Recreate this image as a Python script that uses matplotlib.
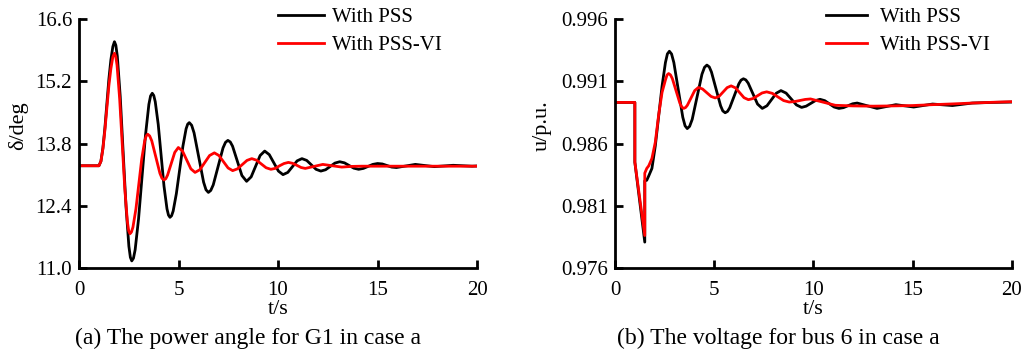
import numpy as np
import matplotlib
matplotlib.use('Agg')
import matplotlib.pyplot as plt

# ---- data ----
# (a) power angle of G1, deg
t_a_pss = [0, 1.0, 1.1, 1.2, 1.3, 1.4, 1.5, 1.6, 1.7, 1.78, 1.85,
           1.925, 2.07, 2.215, 2.36, 2.505, 2.58, 2.65, 2.735,
           2.82, 2.99, 3.165, 3.34, 3.51, 3.595, 3.68, 3.755,
           3.83, 3.98, 4.125, 4.27, 4.42, 4.495, 4.57, 4.65,
           4.73, 4.89, 5.055, 5.22, 5.38, 5.46, 5.54, 5.66,
           5.78, 6.02, 6.26, 6.38, 6.50, 6.62,
           6.745, 6.99, 7.235, 7.36, 7.48, 7.60,
           7.715, 7.95, 8.185, 8.42,
           8.65, 8.875, 9.10, 9.33,
           9.56, 9.79, 10.02, 10.25,
           10.49, 10.725, 10.96, 11.2,
           11.44, 11.675, 11.91, 12.15,
           12.39, 12.625, 12.86, 13.1,
           13.34, 13.575, 13.81, 14.05,
           14.29, 14.525, 14.76, 15.0,
           15.24, 15.475, 15.71, 15.95,
           16.425, 16.9, 17.375, 17.85, 18.325, 18.8, 19.275, 19.75, 20.0]
d_a_pss = [13.30, 13.30, 13.40, 13.70, 14.15, 14.70, 15.25, 15.68, 15.98, 16.09, 16.01,
           15.76, 14.86, 13.625, 12.39, 11.49, 11.24, 11.16, 11.22,
           11.41, 12.10, 13.045, 13.99, 14.68, 14.87, 14.93, 14.88,
           14.74, 14.23, 13.535, 12.84, 12.33, 12.19, 12.14, 12.175,
           12.28, 12.67, 13.205, 13.74, 14.13, 14.235, 14.27, 14.21,
           14.04, 13.485, 12.93, 12.76, 12.70, 12.745,
           12.87, 13.285, 13.70, 13.826, 13.87, 13.835,
           13.74, 13.41, 13.08, 12.95,
           13.05, 13.29, 13.53, 13.63,
           13.55, 13.365, 13.18, 13.10,
           13.15, 13.28, 13.41, 13.46,
           13.42, 13.32, 13.22, 13.18,
           13.21, 13.285, 13.36, 13.39,
           13.365, 13.305, 13.245, 13.22,
           13.24, 13.285, 13.33, 13.35,
           13.34, 13.305, 13.27, 13.26,
           13.295, 13.33, 13.305, 13.28, 13.295, 13.31, 13.30, 13.29, 13.295]

t_a_vi = [0, 1.0, 1.1, 1.2, 1.3, 1.4, 1.5, 1.6, 1.7, 1.78, 1.845,
          1.91, 2.04, 2.17, 2.30, 2.43, 2.495, 2.56, 2.635,
          2.71, 2.86, 3.005, 3.15, 3.30, 3.375, 3.45, 3.55,
          3.655, 3.86, 4.065, 4.17, 4.27, 4.36,
          4.45, 4.63, 4.81, 4.99,
          5.20, 5.41, 5.62, 5.83,
          6.07, 6.315, 6.56, 6.8,
          7.03, 7.26, 7.49, 7.72,
          7.96, 8.20, 8.44, 8.68,
          8.92, 9.16, 9.40, 9.64,
          9.86, 10.08, 10.30, 10.52,
          10.73, 10.945, 11.16, 11.37,
          11.81, 12.25, 12.72, 13.2, 13.7, 14.2, 20.0]
d_a_vi = [13.30, 13.30, 13.40, 13.68, 14.10, 14.60, 15.10, 15.48, 15.75, 15.83, 15.76,
          15.56, 14.815, 13.80, 12.785, 12.04, 11.84, 11.77, 11.81,
          11.92, 12.33, 12.89, 13.45, 13.86, 13.97, 14.01, 13.97,
          13.86, 13.495, 13.13, 13.017, 12.98, 13.008,
          13.09, 13.345, 13.60, 13.71,
          13.63, 13.43, 13.23, 13.15,
          13.21, 13.37, 13.53, 13.59,
          13.53, 13.39, 13.25, 13.19,
          13.23, 13.325, 13.42, 13.46,
          13.425, 13.34, 13.255, 13.22,
          13.24, 13.30, 13.35, 13.375,
          13.355, 13.31, 13.26, 13.24,
          13.285, 13.33, 13.30, 13.27, 13.285, 13.29, 13.29]

# (b) voltage of bus 6, p.u.
t_b_pss = [0, 1.0, 1.0, 1.50, 1.50, 1.6, 1.7, 1.86, 2.03, 2.2, 2.37, 2.54, 2.64, 2.74, 2.85,
           2.965, 3.19, 3.415, 3.53, 3.64, 3.76,
           3.89, 4.135, 4.38, 4.51, 4.63, 4.75,
           4.86, 5.09, 5.32, 5.43, 5.55, 5.67,
           5.78, 6.01, 6.24, 6.35, 6.47, 6.59,
           6.71, 6.945, 7.18, 7.42,
           7.655, 7.89, 8.125, 8.36,
           8.62, 8.88, 9.14, 9.40,
           9.63, 9.865, 10.1, 10.33,
           10.57, 10.805, 11.04, 11.28,
           11.51, 11.74, 11.97, 12.2,
           12.7, 13.2, 13.675, 14.15, 14.6, 15.05, 15.525, 16.0,
           16.5, 17.0, 17.5, 18.0, 19.0, 20.0]
u_b_pss = [0.98930, 0.98930, 0.98450, 0.97808, 0.98300, 0.98305, 0.98340, 0.98400,
           0.98580, 0.98820, 0.99060, 0.99250, 0.99320, 0.99341, 0.99319,
           0.99250, 0.990305, 0.98811, 0.98742, 0.98720, 0.98738,
           0.98794, 0.98975, 0.99156, 0.99212, 0.99230, 0.99215,
           0.99174, 0.990385, 0.98903, 0.98862, 0.98847, 0.98858,
           0.98887, 0.989835, 0.99080, 0.99109, 0.99120, 0.99111,
           0.99085, 0.99001, 0.98917, 0.98882,
           0.98903, 0.989535, 0.99004, 0.99025,
           0.99005, 0.989575, 0.98910, 0.98890,
           0.98900, 0.989225, 0.98945, 0.98955,
           0.98944, 0.989185, 0.98893, 0.98882,
           0.98888, 0.989035, 0.98919, 0.98925,
           0.989035, 0.98882, 0.98897, 0.98912, 0.989025, 0.98893, 0.98905, 0.98917,
           0.98911, 0.98905, 0.98915, 0.98925, 0.98930, 0.98933]

t_b_vi = [0, 1.0, 1.0, 1.50, 1.50, 1.6, 1.7, 1.86, 2.03, 2.2, 2.37, 2.54, 2.62, 2.70, 2.795,
          2.89, 3.08, 3.27, 3.365, 3.46, 3.555,
          3.645, 3.83, 4.015, 4.20,
          4.41, 4.625, 4.84, 5.05,
          5.25, 5.45, 5.65, 5.85,
          6.07, 6.285, 6.50, 6.72,
          6.95, 7.18, 7.41, 7.64,
          7.925, 8.21, 8.495, 8.78,
          9.05, 9.315, 9.58, 9.85,
          10.475, 11.1, 12.0, 13.0, 14.0, 15.0, 16.0, 17.0, 18.0, 19.0, 20.0]
u_b_vi = [0.98930, 0.98930, 0.98450, 0.97861, 0.98362, 0.98400, 0.98421, 0.98480,
          0.98610, 0.98830, 0.99010, 0.99110, 0.99150, 0.99162, 0.99151,
          0.99121, 0.99022, 0.98923, 0.98893, 0.98882, 0.98889,
          0.98907, 0.98966, 0.99025, 0.99050,
          0.99038, 0.99008, 0.98978, 0.98966,
          0.98980, 0.990145, 0.99049, 0.99063,
          0.99047, 0.990075, 0.98968, 0.98952,
          0.98961, 0.989835, 0.99006, 0.99015,
          0.99003, 0.98974, 0.98945, 0.98933,
          0.98937, 0.989455, 0.98954, 0.98958,
          0.989325, 0.98907, 0.98902, 0.98900, 0.98902, 0.98905, 0.98912,
          0.98918, 0.98925, 0.98931, 0.98936]

labels = ['With PSS', 'With PSS-VI']
x_ticks = [0, 5, 10, 15, 20]
a_ticks = [11.0, 12.4, 13.8, 15.2, 16.6]
b_ticks = [0.976, 0.981, 0.986, 0.991, 0.996]

plt.rcParams['font.family'] = ['Liberation Serif', 'DejaVu Serif']
plt.rcParams['font.size'] = 15

fig = plt.figure(figsize=(10.25, 3.54), dpi=100)
ax1 = fig.add_axes([0.0771, 0.2429, 0.3883, 0.7034])
ax2 = fig.add_axes([0.6, 0.2429, 0.3873, 0.7034])


def style(ax, yticks, fmt, ylabel, ylab_x, leg_x, hl, htp):
    for s in ['top', 'right']:
        ax.spines[s].set_visible(False)
    for s in ['left', 'bottom']:
        ax.spines[s].set_linewidth(2)
    ax.set_xlim(0, 20)
    ax.set_ylim(yticks[0], yticks[-1])
    ax.set_xticks(x_ticks)
    ax.set_yticks(yticks)
    ax.set_yticklabels([fmt % v for v in yticks])
    ax.tick_params(direction='in', length=6, width=2, labelsize=15)
    ax.tick_params(axis='y', pad=5)
    ax.tick_params(axis='x', pad=9)
    ax.set_xlabel('t/s', fontsize=16, labelpad=0)
    ax.set_ylabel(ylabel, fontsize=16)
    ax.yaxis.set_label_coords(ylab_x, 0.57)
    ax.legend(loc='upper left', bbox_to_anchor=(leg_x, 1.045), frameon=False,
              fontsize=15, handlelength=hl, handletextpad=htp,
              labelspacing=0.4, borderpad=0, borderaxespad=0)


ax1.plot(t_a_pss, d_a_pss, color='black', lw=2, label=labels[0])
ax1.plot(t_a_vi, d_a_vi, color='red', lw=2, label=labels[1])
style(ax1, a_ticks, '%.1f', 'δ/deg', -0.128, 0.50, 2.2, 0.4)

ax2.plot(t_b_pss, u_b_pss, color='black', lw=2, label=labels[0])
ax2.plot(t_b_vi, u_b_vi, color='red', lw=2, label=labels[1])
style(ax2, b_ticks, '%.3f', 'u/p.u.', -0.159, 0.531, 2.0, 0.58)

fig.text(0.2415, 0.045, '(a) The power angle for G1 in case a',
         ha='center', va='center', fontsize=17)
fig.text(0.759, 0.045, '(b) The voltage for bus 6 in case a',
         ha='center', va='center', fontsize=17)

fig.savefig('out.png', dpi=100)
